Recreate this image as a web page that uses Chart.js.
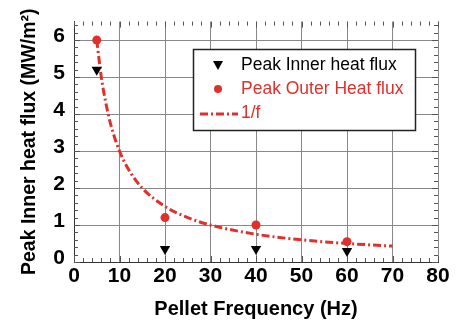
<!DOCTYPE html>
<html>
<head>
<meta charset="utf-8">
<script src="https://cdn.jsdelivr.net/npm/chart.js@4"></script>
<style>
  html, body { margin: 0; padding: 0; background: #fff; }
  #wrap { width: 458px; height: 325px; }
</style>
</head>
<body>
<div id="wrap"><canvas id="c" width="458" height="325"></canvas></div>
<script>
  var RED = '#e0302b';
  var FONT = '"Liberation Sans", Arial, sans-serif';

  // data
  var innerX = [5, 20, 40, 60];
  var innerY = [5.2, 0.35, 0.35, 0.3];
  var outerX = [5, 20, 40, 60];
  var outerY = [6.0, 1.2, 1.0, 0.55];
  var fitX = [5, 6, 7, 8, 10, 12, 15, 20, 25, 30, 40, 50, 60, 70];
  var fitY = [6.0, 5.0, 4.3, 3.75, 3.0, 2.5, 2.0, 1.5, 1.2, 1.0, 0.75, 0.6, 0.5, 0.43];
  var yTicks = [0, 1, 2, 3, 4, 5, 6];

  function pts(xs, ys) {
    return xs.map(function (x, i) { return { x: x, y: ys[i] }; });
  }

  // minor ticks on all four sides + legend box
  var decor = {
    id: 'decor',
    afterDraw: function (chart) {
      var ctx = chart.ctx, a = chart.chartArea;
      var sx = chart.scales.x, sy = chart.scales.y;
      ctx.save();
      ctx.strokeStyle = '#555';
      ctx.lineWidth = 1;
      ctx.beginPath();
      for (var v = 0; v <= 80; v += 2) {
        var px = Math.round(sx.getPixelForValue(v)) + 0.5;
        var len = v % 10 === 0 ? 6 : 4;
        ctx.moveTo(px, a.bottom); ctx.lineTo(px, a.bottom - len);
        ctx.moveTo(px, a.top); ctx.lineTo(px, a.top + len);
      }
      for (var k = 0; k <= 32; k++) {
        var w = k * 0.2;
        var py = Math.round(sy.getPixelForValue(w)) + 0.5;
        var l2 = k % 5 === 0 ? 6 : 4;
        ctx.moveTo(a.left, py); ctx.lineTo(a.left + l2, py);
        ctx.moveTo(a.right, py); ctx.lineTo(a.right - l2, py);
      }
      ctx.stroke();

      // legend
      var bx = 193.5, by = 49.5, bw = 222, bh = 81;
      ctx.fillStyle = '#fff';
      ctx.fillRect(bx, by, bw, bh);
      ctx.strokeStyle = '#222';
      ctx.lineWidth = 1.5;
      ctx.strokeRect(bx, by, bw, bh);

      ctx.font = '17.5px "Liberation Sans", Arial, sans-serif';
      ctx.textBaseline = 'middle';
      ctx.textAlign = 'left';
      // inner
      ctx.fillStyle = '#000';
      ctx.beginPath();
      ctx.moveTo(213, 61); ctx.lineTo(223, 61); ctx.lineTo(218, 70); ctx.closePath();
      ctx.fill();
      ctx.fillText('Peak Inner heat flux', 241, 65);
      // outer
      ctx.fillStyle = RED;
      ctx.beginPath();
      ctx.arc(218, 89, 4, 0, Math.PI * 2);
      ctx.fill();
      ctx.fillText('Peak Outer Heat flux', 241, 89);
      // fit
      ctx.strokeStyle = RED;
      ctx.lineWidth = 3;
      ctx.setLineDash([8, 3, 2, 3]);
      ctx.beginPath();
      ctx.moveTo(200, 114); ctx.lineTo(238, 114);
      ctx.stroke();
      ctx.setLineDash([]);
      ctx.fillText('1/f', 241, 113);
      ctx.restore();
    }
  };

  new Chart(document.getElementById('c').getContext('2d'), {
    type: 'scatter',
    data: {
      datasets: [
        {
          label: '1/f',
          type: 'line',
          data: pts(fitX, fitY),
          borderColor: RED,
          borderWidth: 3,
          borderDash: [8, 3, 2, 3],
          pointRadius: 0,
          cubicInterpolationMode: 'monotone',
          fill: false,
          order: 3
        },
        {
          label: 'Peak Outer Heat flux',
          data: pts(outerX, outerY),
          pointStyle: 'circle',
          pointRadius: 4.5,
          backgroundColor: RED,
          borderColor: RED,
          borderWidth: 0,
          order: 2
        },
        {
          label: 'Peak Inner heat flux',
          data: pts(innerX, innerY),
          pointStyle: 'triangle',
          rotation: 180,
          pointRadius: 6,
          backgroundColor: '#000',
          borderColor: '#000',
          borderWidth: 0,
          order: 1
        }
      ]
    },
    options: {
      responsive: false,
      animation: false,
      layout: { padding: { top: 13, right: 20, left: 0, bottom: 0 } },
      plugins: { legend: { display: false }, tooltip: { enabled: false } },
      scales: {
        x: {
          type: 'linear',
          min: 0, max: 80,
          border: { display: true, color: '#333', width: 1 },
          grid: { color: '#888', lineWidth: 1, drawTicks: false },
          ticks: { stepSize: 10, color: '#000', padding: 2, font: { family: FONT, size: 21, weight: 'bold' } },
          title: { display: true, text: 'Pellet Frequency (Hz)', color: '#000', padding: { top: 0, bottom: 4 }, font: { family: FONT, size: 20, weight: 'bold' } },
          afterFit: function (s) { s.height = 63; }
        },
        y: {
          type: 'linear',
          min: 0, max: 6.5,
          border: { display: true, color: '#333', width: 1 },
          grid: { color: '#888', lineWidth: 1, drawTicks: false },
          afterBuildTicks: function (s) {
            s.ticks = yTicks.map(function (v) { return { value: v }; });
          },
          ticks: { color: '#000', padding: 9, labelOffset: -4, font: { family: FONT, size: 21, weight: 'bold' } },
          title: { display: true, text: 'Peak Inner heat flux (MW/m\u00b2)', color: '#000', padding: { top: 18, bottom: 0 }, font: { family: FONT, size: 19.5, weight: 'bold' } },
          afterFit: function (s) { s.width = 74; }
        }
      }
    },
    plugins: [decor]
  });
</script>
</body>
</html>
